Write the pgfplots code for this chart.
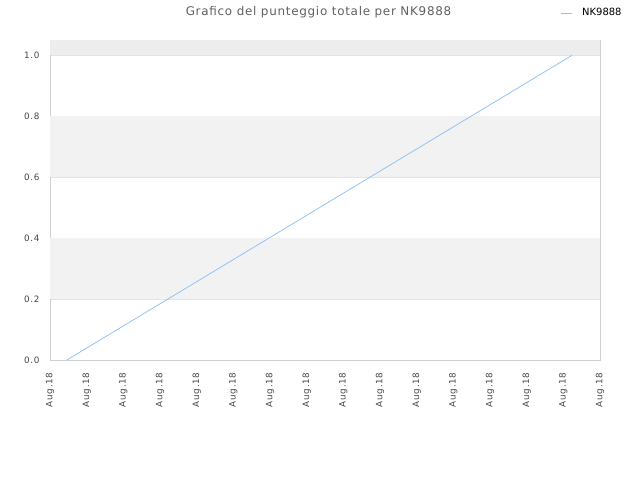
\documentclass[border=0pt]{standalone}
\usepackage{pgfplots}
\pgfplotsset{compat=1.18}
\usepackage{fontspec}
\setmainfont{DejaVu Sans}
\newfontfamily\spaced[LetterSpace=8]{DejaVu Sans}
\newfontfamily\titlefont[LetterSpace=6]{DejaVu Sans}
\definecolor{bandgray}{HTML}{F2F2F2}
\definecolor{topgray}{HTML}{EDEDED}
\definecolor{gridgray}{HTML}{E3E3E3}
\definecolor{axisgray}{HTML}{D0D0D0}
\definecolor{linecol}{HTML}{8EC5F7}
\definecolor{textgray}{HTML}{444444}

\begin{document}
\begin{tikzpicture}[x=1bp,y=1bp]
\path[use as bounding box] (0,0) rectangle (640,480);
\begin{axis}[
    at={(50bp,120bp)}, anchor=south west,
    width=550bp, height=320bp, scale only axis,
    xmin=0, xmax=15, ymin=0, ymax=1.05,
    xtick={0,...,15},
    xticklabels={Aug.18,Aug.18,Aug.18,Aug.18,Aug.18,Aug.18,Aug.18,Aug.18,Aug.18,Aug.18,Aug.18,Aug.18,Aug.18,Aug.18,Aug.18,Aug.18},
    xticklabel style={rotate=90, anchor=east, xshift=-9bp, font=\spaced\fontsize{8.8}{10}\selectfont, text=textgray},
    ytick={0,0.2,0.4,0.6,0.8,1.0},
    yticklabels={0.0,0.2,0.4,0.6,0.8,1.0},
    yticklabel style={xshift=-7bp, font=\spaced\fontsize{8.8}{10}\selectfont, text=textgray},
    ymajorgrids, grid style={gridgray, line width=0.6pt},
    major tick length=0pt,
    axis line style={axisgray, line width=0.8pt},
    /pgf/number format/assume math mode=true,
    clip=true,
]
\addplot[fill=bandgray, draw=none, forget plot] coordinates {(0,0.2) (15,0.2) (15,0.4) (0,0.4)} -- cycle;
\addplot[fill=bandgray, draw=none, forget plot] coordinates {(0,0.6) (15,0.6) (15,0.8) (0,0.8)} -- cycle;
\addplot[fill=topgray, draw=none, forget plot] coordinates {(0,1.0) (15,1.0) (15,1.05) (0,1.05)} -- cycle;
\addplot[linecol, line width=0.8pt] coordinates {(0.46,0) (14.24,1)};
\end{axis}
\node[text=textgray!85, font=\titlefont\fontsize{12}{14}\selectfont, inner sep=0pt] at (318.5,467.5) {Grafico del punteggio totale per NK9888};
\draw[linecol, line width=1pt] (561,466.3) -- (572,466.3);
\node[anchor=west, font=\fontsize{10}{11}\selectfont, inner sep=0pt] at (582,467.7) {NK9888};
\end{tikzpicture}
\end{document}
